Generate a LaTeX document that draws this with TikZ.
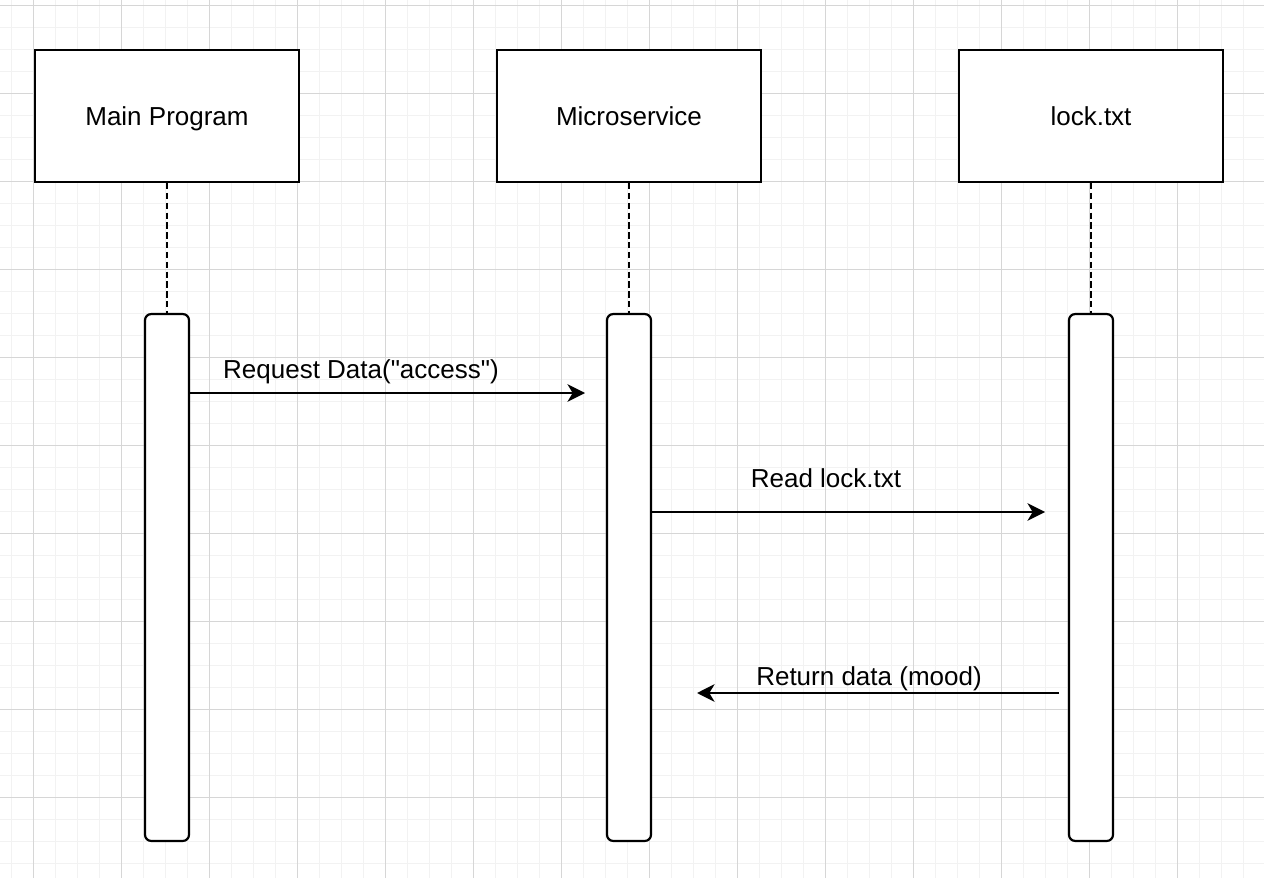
\documentclass[tikz,border=0pt]{standalone}
\usepackage{fontspec}
\setmainfont{Liberation Sans}
\usetikzlibrary{arrows.meta, calc, positioning}

\begin{document}
\begin{tikzpicture}[x=0.02cm, y=-0.02cm,
	actor/.style={draw, line width=1.25pt, fill=white, minimum width=5.28cm, minimum height=2.64cm, text height=10.6pt, text depth=0pt, font=\fontsize{14.8}{18}\selectfont},
	bar/.style={draw, line width=1.25pt, fill=white, rounded corners=3.5pt, minimum width=0.88cm, minimum height=10.54cm},
	lifeline/.style={line width=1pt, dash pattern=on 3.6pt off 2pt},
	msg/.style={line width=1.1pt, -{Stealth[length=10pt, width=10pt, inset=3pt]}},
	lbl/.style={font=\fontsize{14.8}{18}\selectfont, inner sep=0pt, anchor=base}]
	\useasboundingbox (0,0) rectangle (1264,878);
	\fill[white] (0,0) rectangle (1264,878);

	% background grid
	\begin{scope}[line width=0.55pt]
	\foreach \x in {11,33,...,1263}
		\draw[color=black!5] (\x,0) -- (\x,878);
	\foreach \y in {5,27,...,877}
		\draw[color=black!5] (0,\y) -- (1264,\y);
	\foreach \x in {33,121,...,1177}
		\draw[color=black!16] (\x,0) -- (\x,878);
	\foreach \y in {5,93,...,797}
		\draw[color=black!16] (0,\y) -- (1264,\y);
	\end{scope}

	% participants
	\node[actor] (mainprog) at (167,116) {Main Program};
	\node[actor] (micro) at (629,116) {Microservice};
	\node[actor] (lockfile) at (1091,116) {lock.txt};

	% activation bars
	\node[bar] (mainbar) at (167,577.5) {};
	\node[bar] (microbar) at (629,577.5) {};
	\node[bar] (lockbar) at (1091,577.5) {};

	\draw[lifeline] (mainprog.south) -- (mainbar.north);
	\draw[lifeline] (micro.south) -- (microbar.north);
	\draw[lifeline] (lockfile.south) -- (lockbar.north);

	% messages
	\coordinate (reqend) at (585,393);
	\draw[msg] (mainbar.east |- reqend) -- (reqend);
	\node[lbl] (reqlbl) at (361,378) {Request Data(\textquotedbl access\textquotedbl)};

	\coordinate (readend) at (1045,512);
	\draw[msg] (microbar.east |- readend) -- (readend);
	\node[lbl] (readlbl) at (826,487) {Read lock.txt};

	\coordinate (retstart) at (1059,693);
	\coordinate (retend) at (697,693);
	\draw[msg] (retstart) -- (retend);
	\node[lbl] (retlbl) at (869,685) {Return data (mood)};
\end{tikzpicture}
\end{document}
